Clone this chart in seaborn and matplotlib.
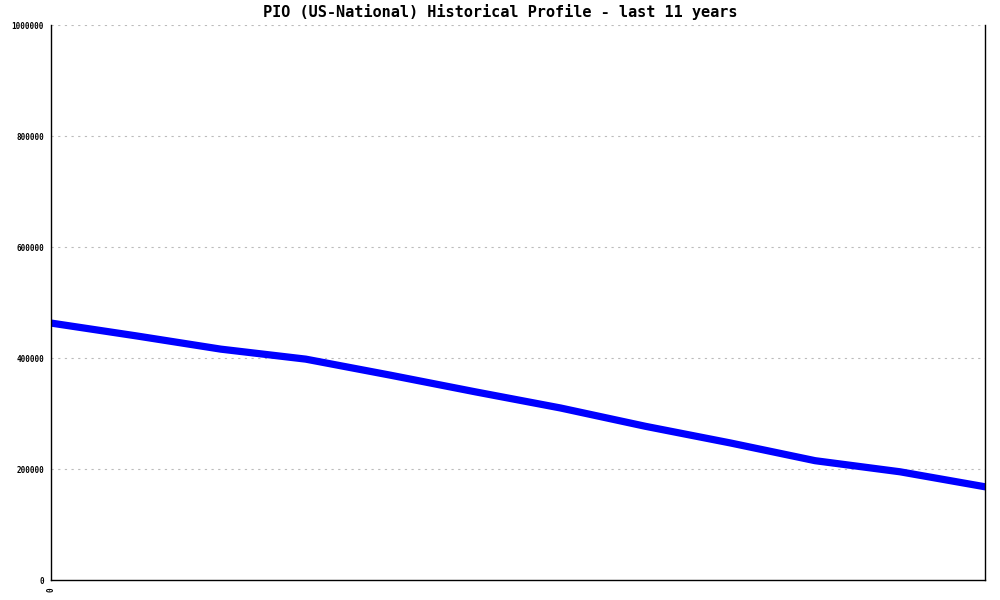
import numpy as np
import pandas as pd
import matplotlib
matplotlib.use("Agg")
import matplotlib.pyplot as plt
import seaborn as sns

# yearly points over the last 11 years
years = list(range(12))
population = [463000, 440000, 416000, 398000, 369000, 339000,
              310000, 277000, 247000, 215000, 195000, 168000]
y_ticks = [0, 200000, 400000, 600000, 800000, 1000000]

sns.set_style("white")
plt.rcParams["font.family"] = ["DejaVu Sans Mono"]
plt.rcParams["text.color"] = "black"
plt.rcParams["xtick.color"] = "black"
plt.rcParams["ytick.color"] = "black"

df = pd.DataFrame({"year": years, "population": population})

fig = plt.figure(figsize=(10, 6), dpi=100)
ax = fig.add_axes([0.051, 0.0333, 0.934, 0.925])

sns.lineplot(data=df, x="year", y="population", color="#0000ff",
             linewidth=5.2, ax=ax)

ax.set_xlim(0, 11)
ax.set_ylim(0, 1000000)
ax.set_yticks(y_ticks)
ax.set_yticklabels([str(v) for v in y_ticks], fontsize=5.5, fontweight="bold")
ax.set_xticks([0])
ax.set_xticklabels(["0"], rotation=90, fontsize=5.5, fontweight="bold")
ax.set_xlabel("")
ax.set_ylabel("")
ax.tick_params(axis="both", direction="inout", length=6, width=1, color="black", pad=2)

for v in y_ticks[1:]:
    ax.axhline(v, color="#bbbbbb", linestyle=(0, (2, 4)), linewidth=0.8, zorder=0)

for side in ["left", "bottom", "right"]:
    ax.spines[side].set_visible(True)
    ax.spines[side].set_color("black")
    ax.spines[side].set_linewidth(1)
ax.spines["top"].set_visible(False)

fig.suptitle("PIO (US-National) Historical Profile - last 11 years",
             y=0.993, fontsize=11, color="black", fontweight="semibold")

fig.savefig("out.png", dpi=100)
plt.close(fig)
